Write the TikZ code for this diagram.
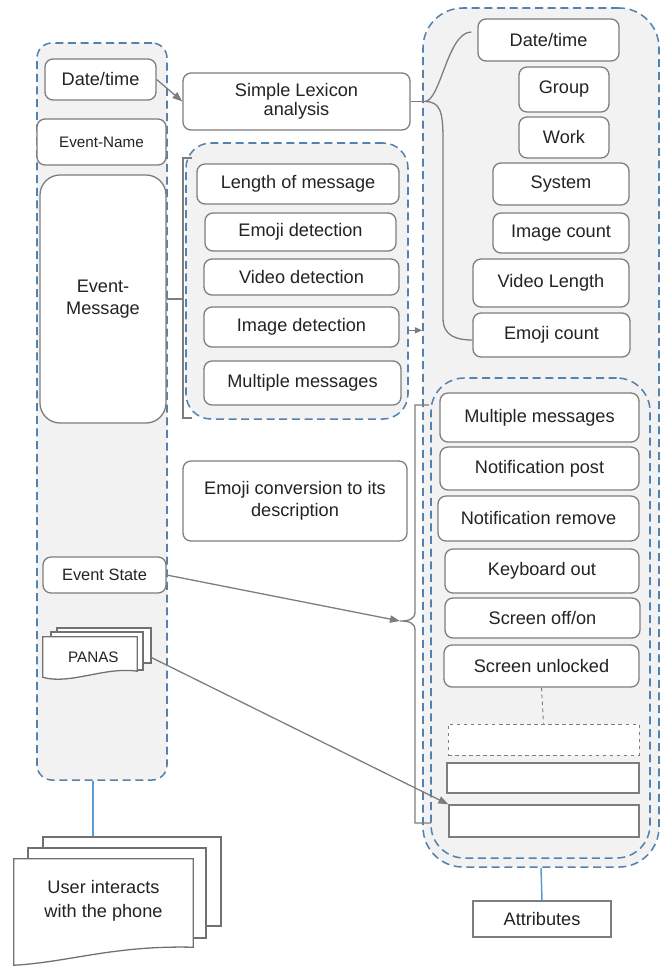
\documentclass[tikz,border=0pt]{standalone}
\usepackage{fontspec}
\setmainfont{Liberation Sans}
\usetikzlibrary{arrows.meta, positioning}

\definecolor{boxgray}{RGB}{125,125,125}
\definecolor{grpblue}{RGB}{84,130,175}
\definecolor{grpfill}{RGB}{242,242,242}
\definecolor{lnblue}{RGB}{91,155,213}
\definecolor{txt}{RGB}{35,35,35}

\tikzset{
  sz/.style 2 args={minimum width=#1*0.3mm, minimum height=#2*0.3mm},
  box/.style={draw=boxgray, line width=1.1pt, rounded corners=2.4mm, fill=white,
    inner sep=1pt, text=txt, align=center, font=\fontsize{15.5}{19}\selectfont},
  blank/.style={box, sharp corners},
  grp/.style={draw=grpblue, line width=1.3pt, dash pattern=on 2.4mm off 1.4mm,
    fill=grpfill, inner sep=0pt},
  page/.style={draw=boxgray!90!black, line width=1.1pt, fill=white, inner sep=0pt},
  conn/.style={draw=boxgray, line width=1.1pt},
  arr/.style={conn, -{Triangle[length=3mm, width=2.2mm]}},
  blueln/.style={draw=lnblue, line width=1.3pt},
}

\begin{document}
\begin{tikzpicture}[x=0.03cm, y=-0.03cm]
  \useasboundingbox (0,0) rectangle (667,967);

  % event log
  \node[grp, rounded corners=4.5mm, sz={130}{737}] (left) at (102,411.5) {};
  \node[box, sz={111}{41}] (ldt) at (100.5,79.5) {Date/time};
  \node[box, sz={129}{46}, font=\fontsize{13}{16}\selectfont] (ename) at (101.5,142) {Event-Name};
  \node[box, rounded corners=6mm, sz={126}{248}] (emsg) at (103,299) {Event-\\Message};
  \node[box, sz={123}{36}, font=\fontsize{14}{17}\selectfont] (estate) at (104.5,575) {Event State};

  \node[page, sz={94}{35}] (panas3) at (104,645.5) {};
  \node[page, sz={92}{38}] (panas2) at (97,651) {};
  \node[sz={94}{40}, inner sep=0pt] (panas) at (90,657) {};
  \draw[page] (panas.south west) -- (panas.north west) -- (panas.north east)
    -- ([yshift=1.8mm]panas.south east) .. controls +(-32,-5) and +(27,8) .. (panas.south west) -- cycle;
  \node[text=txt, font=\fontsize{13}{16}\selectfont] at ([xshift=1mm]panas.center) {PANAS};

  % user
  \node[page, sz={178}{89}] (udoc3) at (132,881.5) {};
  \node[page, sz={178}{90}] (udoc2) at (117,893) {};
  \node[sz={179}{84}, inner sep=0pt] (udoc) at (103.5,901) {};
  \draw[page] ([yshift=-6.6mm]udoc.south west) -- (udoc.north west) -- (udoc.north east)
    -- ([yshift=-1.2mm]udoc.south east) .. controls +(-80,-2) and +(55,-3) .. ([yshift=-6.6mm]udoc.south west) -- cycle;
  \node[text=txt, align=center, font=\fontsize{15.5}{20}\selectfont] at (udoc) {User interacts\\with the phone};
  \draw[blueln] ([xshift=-2.7mm]left.south) -- ([xshift=-2.7mm]left.south |- udoc3.north);

  % processing
  \node[box, sz={227}{57}, font=\fontsize{15.5}{16.5}\selectfont] (lex) at (296.5,101.5) {Simple Lexicon\\analysis};
  \node[grp, rounded corners=7.5mm, sz={222}{276}] (mid) at (297,281) {};
  \node[box, sz={202}{40}] (lom) at (298,184) {Length of message};
  \node[box, sz={191}{38}] (edet) at (300.5,232) {Emoji detection};
  \node[box, sz={195}{36}] (vdet) at (301.5,277) {Video detection};
  \node[box, sz={195}{40}] (idet) at (301.5,327) {Image detection};
  \node[box, sz={197}{44}] (mmsg) at (302.5,383) {Multiple messages};
  \node[box, sz={224}{80}] (emconv) at (295,501) {Emoji conversion to its\\description};

  % attributes
  \node[grp, rounded corners=12mm, sz={236}{859}] (rout) at (541,437.5) {};
  \node[box, sz={141}{42}] (rdt) at (548.5,40) {Date/time};
  \node[box, sz={90}{45}] (group) at (564,89.5) {Group};
  \node[box, sz={90}{41}] (work) at (564,137.5) {Work};
  \node[box, sz={136}{42}] (sys) at (561,184) {System};
  \node[box, sz={136}{40}] (icount) at (561,233) {Image count};
  \node[box, sz={156}{48}] (vlen) at (551,283) {Video Length};
  \node[box, sz={157}{44}] (ecount) at (551.5,335) {Emoji count};

  \node[grp, rounded corners=10mm, sz={219}{480}] (rin) at (540.5,618) {};
  \node[box, sz={199}{49}] (rmm) at (539.5,417.5) {Multiple messages};
  \node[box, sz={199}{43}] (npost) at (539.5,468.5) {Notification post};
  \node[box, sz={201}{45}] (nrem) at (538.5,518.5) {Notification remove};
  \node[box, sz={194}{44}] (kbd) at (542,571) {Keyboard out};
  \node[box, sz={195}{40}] (scr) at (542.5,618) {Screen off/on};
  \node[box, sz={195}{42}] (sunl) at (541.5,666) {Screen unlocked};
  \node[blank, dashed, line width=0.8pt, sz={191}{31}] (blank1) at (543.5,739.5) {};
  \node[blank, sz={192}{30}] (blank2) at (543,778) {};
  \node[blank, sz={190}{32}] (blank3) at (544,821) {};
  \draw[conn, dashed, line width=0.8pt] (sunl.south) -- (blank1.north);

  \node[blank, sz={138}{36}] (attr) at (542,919) {Attributes};
  \draw[blueln] (rout.south) -- (attr.north);

  % brackets
  \coordinate (mbrk) at (183,299);
  \draw[conn] (192,158) -- (183,158) -- (183,418) -- (192,418);
  \draw[conn] (emsg.east) -- (mbrk);
  \coordinate (rbrk) at (400,621);
  \draw[conn] (429,405) -- (415,405) -- (415,612) .. controls (415,619) and (409,621) .. (rbrk)
    .. controls (409,621) and (415,623) .. (415,630) -- (415,823) -- (431,823);

  % connectors
  \draw[arr] (ldt.east) -- (lex.west);
  \draw[conn] (lex.east) -- ++(14,0) coordinate (lexb);
  \draw[conn] (lexb) .. controls +(16,0) and +(-24,0) .. ([xshift=-1.8mm, yshift=2.4mm]rdt.west);
  \draw[conn] (lexb) .. controls +(16,0) and +(0,-28) .. (443,140) -- (443,318)
    .. controls +(0,18) and +(-16,0) .. ([yshift=-1.5mm]ecount.west);
  \draw[conn, -{Triangle[length=2.2mm, width=1.8mm]}] ([yshift=-1mm]idet.east -| mid.east) -- ([yshift=-1mm]idet.east -| rout.west);
  \draw[arr] (estate.east) -- (rbrk);
  \draw[arr] ([yshift=1.8mm]panas3.south east) -- (blank3.north west);
\end{tikzpicture}
\end{document}
